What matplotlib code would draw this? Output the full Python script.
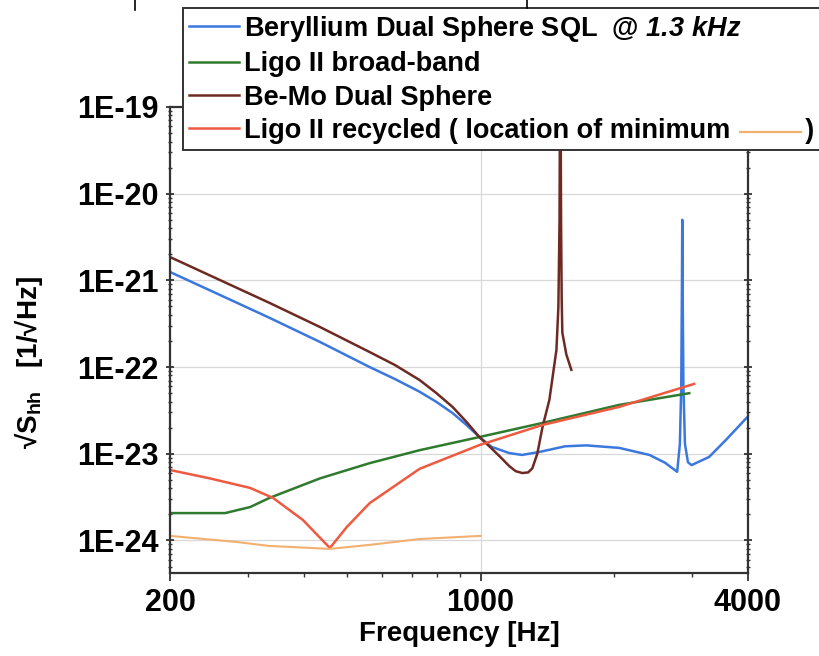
import numpy as np
import matplotlib
matplotlib.use('Agg')
from matplotlib import pyplot as plt
from matplotlib.lines import Line2D
from matplotlib.ticker import FixedLocator, NullFormatter, LogLocator

plt.rcParams['font.family'] = ['Liberation Sans', 'DejaVu Sans']
plt.rcParams['font.weight'] = 'bold'
plt.rcParams['mathtext.fontset'] = 'custom'
plt.rcParams['mathtext.rm'] = 'Liberation Sans:bold'
plt.rcParams['mathtext.bf'] = 'Liberation Sans:bold'
plt.rcParams['mathtext.it'] = 'Liberation Sans:bold:italic'
plt.rcParams['mathtext.bfit'] = 'Liberation Sans:bold:italic'

# Beryllium dual sphere SQL
blue_f = [200, 259, 335, 435, 563, 641, 729, 796, 865, 930, 994, 1060, 1160, 1240, 1357,
          1550, 1730, 2050, 2400, 2600, 2771, 2810, 2830, 2840, 2845, 2852, 2862, 2885,
          2930, 2985, 3270, 3570, 4000]
blue_v = [1.25e-21, 6.8e-22, 3.7e-22, 1.95e-22, 1.0e-22, 7.3e-23, 5.2e-23, 3.96e-23,
          2.95e-23, 2.15e-23, 1.56e-23, 1.2e-23, 1.02e-23, 9.7e-24, 1.05e-23,
          1.22e-23, 1.25e-23, 1.17e-23, 9.7e-24, 7.9e-24, 6.2e-24, 1.3e-23, 6e-23, 8e-22,
          5e-21, 6e-22, 6e-23, 1.3e-23, 8e-24, 7.4e-24, 9.2e-24, 1.45e-23, 2.7e-23]

# Ligo II broad-band
green_f = [200, 266, 303, 335, 435, 563, 729, 994, 1379, 2050, 2950]
green_v = [2.07e-24, 2.07e-24, 2.43e-24, 3.1e-24, 5.2e-24, 7.8e-24, 1.1e-23, 1.56e-23,
           2.27e-23, 3.66e-23, 5.0e-23]

# Be-Mo dual sphere
brown_f = [200, 259, 335, 435, 563, 641, 729, 796, 865, 930, 994, 1050, 1103, 1161, 1200,
           1242, 1280, 1308, 1342, 1379, 1429, 1482, 1497, 1506, 1512, 1518, 1523, 1528,
           1560, 1601]
brown_v = [1.86e-21, 1.01e-21, 5.5e-22, 2.9e-22, 1.49e-22, 1.06e-22, 7.1e-23, 5.0e-23,
           3.47e-23, 2.33e-23, 1.56e-23, 1.2e-23, 9.4e-24, 7.2e-24, 6.3e-24,
           6.0e-24, 6.1e-24, 6.8e-24, 1.0e-23, 2.04e-23, 4.2e-23, 1.58e-22, 4.9e-22, 5e-21,
           1e-18, 5e-21, 6e-22, 2.5e-22, 1.4e-22, 9.3e-23]

# Ligo II recycled
red_f = [200, 246, 303, 341, 398, 458, 500, 563, 729, 994, 1379, 2050, 3026]
red_v = [6.5e-24, 5.2e-24, 4.04e-24, 3.1e-24, 1.73e-24, 8.2e-25, 1.43e-24, 2.7e-24,
         6.7e-24, 1.26e-23, 2.15e-23, 3.47e-23, 6.4e-23]

# location of minimum
orange_f = [200, 283, 335, 458, 563, 729, 1000]
orange_v = [1.13e-24, 9.6e-25, 8.65e-25, 8.0e-25, 8.9e-25, 1.04e-24, 1.13e-24]

ytick_vals = [1e-24, 1e-23, 1e-22, 1e-21, 1e-20, 1e-19]
ytick_labels = ['1E-24', '1E-23', '1E-22', '1E-21', '1E-20', '1E-19']
xtick_vals = [200, 1000, 4000]
xtick_labels = ['200', '1000', '4000']

c_blue = '#3a78e0'
c_green = '#2e7a2e'
c_brown = '#6e2a22'
c_red = '#ee5a40'
c_orange = '#f2b070'

fig = plt.figure(figsize=(8.2, 6.56), dpi=100)
ax = fig.add_axes([170/820, 83/656, 578/820, 466/656])

lw = 1.8
l1, = ax.plot(blue_f, blue_v, color=c_blue, lw=lw)
l2, = ax.plot(green_f, green_v, color=c_green, lw=lw)
l3, = ax.plot(brown_f, brown_v, color=c_brown, lw=lw)
l4, = ax.plot(red_f, red_v, color=c_red, lw=lw)
ax.plot(orange_f, orange_v, color=c_orange, lw=1.5)

ax.set_xscale('log')
ax.set_yscale('log')
ax.set_xlim(200, 4000)
ax.set_ylim(10**-24.375, 1e-19)

ax.xaxis.set_major_locator(FixedLocator(xtick_vals))
ax.set_xticklabels(xtick_labels)
ax.xaxis.set_minor_locator(FixedLocator([300, 400, 500, 600, 700, 800, 900, 2000, 3000]))
ax.xaxis.set_minor_formatter(NullFormatter())
ax.yaxis.set_major_locator(FixedLocator(ytick_vals))
ax.set_yticklabels(ytick_labels)
ax.yaxis.set_minor_locator(LogLocator(base=10, subs=np.arange(2, 10), numticks=50))
ax.yaxis.set_minor_formatter(NullFormatter())

ax.tick_params(axis='both', which='major', labelsize=22, length=6, width=1.2,
               direction='out', pad=5, colors='#222222', labelcolor='black')
ax.tick_params(axis='both', which='minor', length=3, width=1, direction='out', colors='#333333')
ax.tick_params(axis='y', which='both', right=True, direction='inout')
for s in ax.spines.values():
    s.set_linewidth(1.6)
    s.set_color('#333333')

ax.grid(True, which='major', color='#d8d8d8', lw=0.9)
ax.set_axisbelow(True)

ax.set_xlabel('Frequency [Hz]', fontsize=20, fontweight='bold', labelpad=2)
fig.text(29/820, 1 - 363/656, r'√S$_{\mathbf{hh}}$   [1/√Hz]', rotation=90,
         ha='center', va='center', fontsize=20, fontweight='bold')

prefix = 'Ligo II recycled ( location of minimum'
labels = [r'Beryllium Dual Sphere SQL  @ $\mathbfit{1.3\ kHz}$',
          'Ligo II broad-band',
          'Be-Mo Dual Sphere',
          prefix + '\u00a0' * 10 + ')']
# legend frame runs past the right edge of the figure, as in the original
top = 1 - 8/656
leg = ax.legend([l1, l2, l3, l4], labels, loc='upper left', mode='expand',
                bbox_to_anchor=(183/820, 0, (840 - 183)/820, top), bbox_transform=fig.transFigure,
                borderaxespad=0, fancybox=False, framealpha=1, edgecolor='#333333',
                prop={'family': ['Liberation Sans', 'DejaVu Sans'], 'weight': 'bold', 'size': 19.5},
                handlelength=1.85, handletextpad=0.2, labelspacing=0.27, borderpad=0.22)
leg.get_frame().set_linewidth(1.4)

# orange sample between "minimum" and ")"
fig.canvas.draw()
r = fig.canvas.get_renderer()
t = leg.get_texts()[3]
bb = t.get_window_extent(r)
fp = t.get_fontproperties()
tmp = fig.text(0, 0, prefix, fontproperties=fp)
w_pre = tmp.get_window_extent(r).width
tmp.remove()
tmp = fig.text(0, 0, ')', fontproperties=fp)
w_end = tmp.get_window_extent(r).width
tmp.remove()
W, H = fig.bbox.width, fig.bbox.height
x0 = bb.x0 + w_pre + 9
x1 = bb.x1 - w_end - 5
yc = (bb.y0 + bb.height * 0.45) / H
fig.add_artist(Line2D([x0 / W, x1 / W], [yc, yc], color=c_orange, lw=1.6, zorder=10))

# small marks at the top edge
fig.add_artist(Line2D([135/820, 135/820], [1, 1 - 10/656], color='black', lw=1.2))
fig.add_artist(Line2D([527/820, 527/820], [1, 1 - 8/656], color='black', lw=1.2))

fig.savefig('out.png', dpi=100)
